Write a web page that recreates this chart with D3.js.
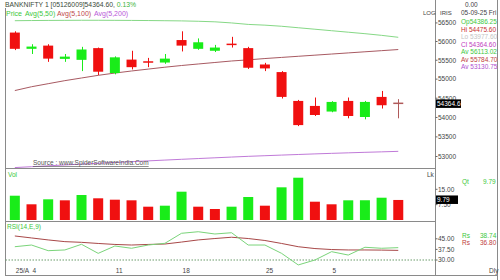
<!DOCTYPE html>
<html>
<head>
<meta charset="utf-8">
<script src="https://cdn.jsdelivr.net/npm/d3@7"></script>
<style>
  body { margin: 0; background: #fff; }
  svg { display: block; }
  text { font-family: "Liberation Sans", Arial, sans-serif; }
</style>
</head>
<body>
<svg id="chart"></svg>
<script>
// Trading days (Aug 1 .. Sep 5, 2025)
var dates = ["01-08","04-08","05-08","06-08","07-08","08-08","11-08","12-08","13-08","14-08",
             "18-08","19-08","20-08","21-08","22-08","25-08","26-08","28-08","29-08",
             "01-09","02-09","03-09","04-09","05-09"];

// OHLC
var opens  = [56240,55804,55890,55536,55510,55823,55160,55517,55473,55439,56039,55804,55752,55943,55823,55387,55186,54429,54299,54153,54429,54012,54534,54386.25];
var highs  = [56274,55927,55927,55666,55857,55838,55603,55752,55562,55666,56274,56083,55909,56125,55857,55431,55212,54455,54518,54422,54518,54429,54690,54475.60];
var lows   = [55770,55666,55457,55457,55212,55108,55126,55256,55316,55405,55734,55778,55718,55838,55269,55212,54492,53777,54038,54135,53978,53952,54231,53977.60];
var closes = [55804,55864,55543,55596,55786,55196,55577,55316,55447,55543,55890,55979,55838,55909,55301,55283,54534,53803,54064,54403,54038,54403,54317,54364.60];

// Moving averages
var ma50  = [56560,56565,56568,56570,56572,56572,56570,56568,56565,56560,56555,56545,56530,56500,56460,56440,56410,56370,56330,56290,56250,56210,56165,56113.02];
var ma100 = [54700,54800,54880,54960,55030,55100,55160,55215,55265,55315,55360,55400,55440,55480,55510,55545,55575,55605,55635,55665,55695,55725,55755,55784.70];
var ma200 = [52720,52742,52764,52786,52807,52828,52849,52869,52889,52909,52929,52948,52967,52986,53004,53020,53036,53051,53066,53080,53093,53106,53118,53130.75];

// Volume (lakh)
var volumes = [11.87,7.67,10.11,9.62,12.21,10.60,9.92,9.62,6.50,6.99,13.83,6.50,5.37,6.50,11.24,6.99,15.97,20.66,8.94,7.67,9.62,9.65,10.89,9.79];

// RSI and its signal line
var rsi       = [39.4,40.6,36.6,37.1,41.1,34.7,39.9,38.3,40.6,41.8,48.9,50.0,48.4,49.3,40.6,40.6,34.7,26.5,30.0,35.9,33.5,39.0,38.3,38.74];
var rsiSignal = [47.0,45.6,44.2,43.0,42.5,41.7,41.0,40.6,41.0,41.3,42.7,44.2,45.2,46.1,45.2,43.8,41.7,39.4,38.1,37.4,37.1,37.1,37.0,36.80];

// Axis ticks
var priceTicks = [56500,56000,55500,55000,54500,54000,53500,53000];
var volTicks = [15, 7.5];
var rsiTicks = [45, 37.5, 30];
var tickDates = ["01-08","04-08","11-08","18-08","25-08","01-09"];
var tickText  = ["25/A","4","11","18","25","5"];

var width = 500, height = 280;
var plotLeft = 5.5, plotRight = 435.5, infoRight = 497.5;
var upCol = "#19ec19", downCol = "#f01010";

var svg = d3.select("#chart").attr("width", width).attr("height", height);
svg.append("rect").attr("width", width).attr("height", height).attr("fill", "#fff");

var x = d3.scaleBand().domain(dates).range([6.5, 406.6]).paddingInner(0.4).paddingOuter(0.2);
var cx = function(d) { return x(d) + x.bandwidth() / 2; };

var yP = d3.scaleLog().domain([53000, 56000]).range([156.5, 41.5]);
var yV = d3.scaleLinear().domain([0, 15]).range([220, 189.3]);
var yR = d3.scaleLinear().domain([30, 45]).range([260, 238.8]);

var candles = dates.map(function(d, i) {
  return { date: d, o: opens[i], h: highs[i], l: lows[i], c: closes[i] };
});

// Frames
var frame = svg.append("g").attr("stroke", "#8a8a8a").attr("fill", "none");
frame.append("line").attr("x1", plotLeft).attr("x2", plotLeft).attr("y1", 8).attr("y2", 276);
frame.append("line").attr("x1", plotRight).attr("x2", plotRight).attr("y1", 0).attr("y2", 276);
frame.append("line").attr("x1", infoRight).attr("x2", infoRight).attr("y1", 0).attr("y2", 280);
[168.5, 221.5].forEach(function(yy) {
  frame.append("line").attr("x1", plotLeft).attr("x2", plotRight).attr("y1", yy).attr("y2", yy);
});
frame.append("line").attr("x1", plotLeft).attr("x2", infoRight).attr("y1", 275.5).attr("y2", 275.5);

// Price panel: moving averages
var maLine = function(arr) {
  return d3.line().x(function(d, i) { return cx(dates[i]); }).y(function(d) { return yP(d); })(arr);
};
svg.append("path").attr("d", maLine(ma50)).attr("fill", "none").attr("stroke", "#86d886").attr("stroke-width", 1);
svg.append("path").attr("d", maLine(ma100)).attr("fill", "none").attr("stroke", "#a85a62").attr("stroke-width", 1);
svg.append("path").attr("d", maLine(ma200)).attr("fill", "none").attr("stroke", "#c07ad8").attr("stroke-width", 1);

// Candles
var last = candles.length - 1;
var cg = svg.selectAll(".candle").data(candles).enter().append("g").attr("class", "candle");
cg.append("line")
  .attr("x1", function(d) { return Math.round(cx(d.date)) + 0.5; })
  .attr("x2", function(d) { return Math.round(cx(d.date)) + 0.5; })
  .attr("y1", function(d) { return yP(d.h); })
  .attr("y2", function(d) { return yP(d.l); })
  .attr("stroke", function(d, i) { return i === last ? "#b05a5a" : (d.c >= d.o ? upCol : downCol); })
  .attr("stroke-width", 1);
cg.append("rect")
  .attr("x", function(d) { return x(d.date); })
  .attr("width", x.bandwidth())
  .attr("y", function(d) { return yP(Math.max(d.o, d.c)); })
  .attr("height", function(d) { return Math.max(1.5, yP(Math.min(d.o, d.c)) - yP(Math.max(d.o, d.c))); })
  .attr("fill", function(d, i) { return i === last ? "#b05a5a" : (d.c >= d.o ? upCol : downCol); });

// Source note
svg.append("text").attr("x", 33).attr("y", 165).attr("font-size", 6.5).attr("fill", "#555")
  .attr("text-decoration", "underline").text("Source : www.SpiderSoftwareIndia.Com");

// Price axis
var pa = svg.append("g");
pa.selectAll("line").data(priceTicks).enter().append("line")
  .attr("x1", plotRight).attr("x2", plotRight + 2)
  .attr("y1", function(d) { return yP(d); }).attr("y2", function(d) { return yP(d); })
  .attr("stroke", "#666");
pa.selectAll("text").data(priceTicks).enter().append("text")
  .attr("x", plotRight + 2.5).attr("y", function(d) { return yP(d) + 2.3; })
  .attr("font-size", 6.5).attr("fill", "#444").text(function(d) { return d; });
var lastY = yP(closes[last]);
svg.append("rect").attr("x", 436).attr("y", lastY - 4).attr("width", 25).attr("height", 8.5).attr("fill", "#000");
svg.append("text").attr("x", 437).attr("y", lastY + 2.3).attr("font-size", 6.5).attr("fill", "#fff").text(closes[last].toFixed(1));

// Header
svg.append("text").attr("x", 5).attr("y", 7).attr("font-size", 6.8).attr("fill", "#3a4a3a")
  .text("BANKNIFTY 1 [05126009]54364.60, ").append("tspan").attr("fill", "#3cb43c").text("0.13%");
var legendItems = [["Price", "#3cc83c", 6], ["Avg(5,50)", "#3cc83c", 25], ["Avg(5,100)", "#c04848", 57], ["Avg(5,200)", "#b858d8", 94]];
svg.selectAll(".leg").data(legendItems).enter().append("text").attr("class", "leg")
  .attr("x", function(d) { return d[2]; }).attr("y", 16).attr("font-size", 7)
  .attr("fill", function(d) { return d[1]; }).text(function(d) { return d[0]; });
svg.append("text").attr("x", 423).attr("y", 15).attr("font-size", 6).attr("fill", "#444").text("LOG");

// Info column
svg.append("text").attr("x", 465).attr("y", 7).attr("font-size", 6.5).attr("fill", "#444").text("0.00");
svg.append("text").attr("x", 440).attr("y", 15).attr("font-size", 6).attr("fill", "#444").text("IRIS");
svg.append("text").attr("x", 461).attr("y", 15).attr("font-size", 6.5).attr("fill", "#444").text("05-09-25 Fri");
var info = [
  ["Op" + opens[last].toFixed(2), "#3cc83c"],
  ["Hi  " + highs[last].toFixed(2), "#c83030"],
  ["Lo  " + lows[last].toFixed(2), "#c4c4c4"],
  ["Cl  " + closes[last].toFixed(2), "#c040c0"],
  ["Av  " + ma50[last].toFixed(2), "#3cc83c"],
  ["Av  " + ma100[last].toFixed(2), "#c04040"],
  ["Av  " + ma200[last].toFixed(2), "#b050d0"]
];
svg.selectAll(".info").data(info).enter().append("text").attr("class", "info")
  .attr("x", 461).attr("y", function(d, i) { return 24 + i * 7.5; })
  .attr("font-size", 6.5).attr("fill", function(d) { return d[1]; }).text(function(d) { return d[0]; });

// Volume panel
svg.selectAll(".vol").data(volumes).enter().append("rect").attr("class", "vol")
  .attr("x", function(d, i) { return x(dates[i]); })
  .attr("width", x.bandwidth())
  .attr("y", function(d) { return yV(d); })
  .attr("height", function(d) { return yV(0) - yV(d); })
  .attr("fill", function(d, i) { return i > 0 && d < volumes[i - 1] ? downCol : upCol; });
svg.append("text").attr("x", 8).attr("y", 177).attr("font-size", 6.5).attr("fill", "#3cc83c").text("Vol");
svg.append("text").attr("x", 427).attr("y", 177).attr("font-size", 6.5).attr("fill", "#444").text("Lk");
var va = svg.append("g");
va.selectAll("line").data(volTicks).enter().append("line")
  .attr("x1", plotRight).attr("x2", plotRight + 2)
  .attr("y1", function(d) { return yV(d); }).attr("y2", function(d) { return yV(d); }).attr("stroke", "#666");
va.selectAll("text").data(volTicks).enter().append("text")
  .attr("x", plotRight + 2.5).attr("y", function(d) { return yV(d) + 2.3; })
  .attr("font-size", 6.5).attr("fill", "#444").text(function(d) { return d.toFixed(2); });
var vLastY = yV(volumes[last]);
svg.append("rect").attr("x", 436).attr("y", vLastY - 4.5).attr("width", 22).attr("height", 8.5).attr("fill", "#000");
svg.append("text").attr("x", 437).attr("y", vLastY + 2).attr("font-size", 6.5).attr("fill", "#fff").text(volumes[last].toFixed(2));
svg.append("text").attr("x", 462).attr("y", 184).attr("font-size", 6.5).attr("fill", "#3cc83c").text("Qt");
svg.append("text").attr("x", 483).attr("y", 184).attr("font-size", 6.5).attr("fill", "#3cc83c").text(volumes[last].toFixed(2));

// RSI panel
svg.append("line").attr("x1", plotLeft).attr("x2", plotRight).attr("y1", yR(30)).attr("y2", yR(30))
  .attr("stroke", "#6a9a6a").attr("stroke-dasharray", "1.5,1.5");
var rLine = d3.line().x(function(d, i) { return cx(dates[i]); }).y(function(d) { return yR(d); });
svg.append("path").attr("d", rLine(rsiSignal)).attr("fill", "none").attr("stroke", "#a84848").attr("stroke-width", 1);
svg.append("path").attr("d", rLine(rsi)).attr("fill", "none").attr("stroke", "#7ad47a").attr("stroke-width", 1);
svg.append("text").attr("x", 7).attr("y", 229).attr("font-size", 6.5).attr("fill", "#3cc83c").text("RSI(14,E,9)");
var ra = svg.append("g");
ra.selectAll("line").data(rsiTicks).enter().append("line")
  .attr("x1", plotRight).attr("x2", plotRight + 2)
  .attr("y1", function(d) { return yR(d); }).attr("y2", function(d) { return yR(d); }).attr("stroke", "#666");
ra.selectAll("text").data(rsiTicks).enter().append("text")
  .attr("x", plotRight + 2.5).attr("y", function(d) { return yR(d) + 2.3; })
  .attr("font-size", 6.5).attr("fill", "#444").text(function(d) { return d.toFixed(2); });
svg.append("text").attr("x", 462).attr("y", 238).attr("font-size", 6.5).attr("fill", "#3cc83c").text("Rs");
svg.append("text").attr("x", 480).attr("y", 238).attr("font-size", 6.5).attr("fill", "#3cc83c").text(rsi[last].toFixed(2));
svg.append("text").attr("x", 462).attr("y", 245).attr("font-size", 6.5).attr("fill", "#c04040").text("Rs");
svg.append("text").attr("x", 480).attr("y", 245).attr("font-size", 6.5).attr("fill", "#c04040").text(rsiSignal[last].toFixed(2));

// Date labels
svg.selectAll(".dt").data(tickDates).enter().append("text").attr("class", "dt")
  .attr("x", function(d) { return cx(d) + 1; }).attr("y", 273)
  .attr("font-size", 6.5).attr("fill", "#444").text(function(d, i) { return tickText[i]; });
svg.append("text").attr("x", 489).attr("y", 273).attr("font-size", 6.5).attr("fill", "#444").text("Dly");
</script>
</body>
</html>
